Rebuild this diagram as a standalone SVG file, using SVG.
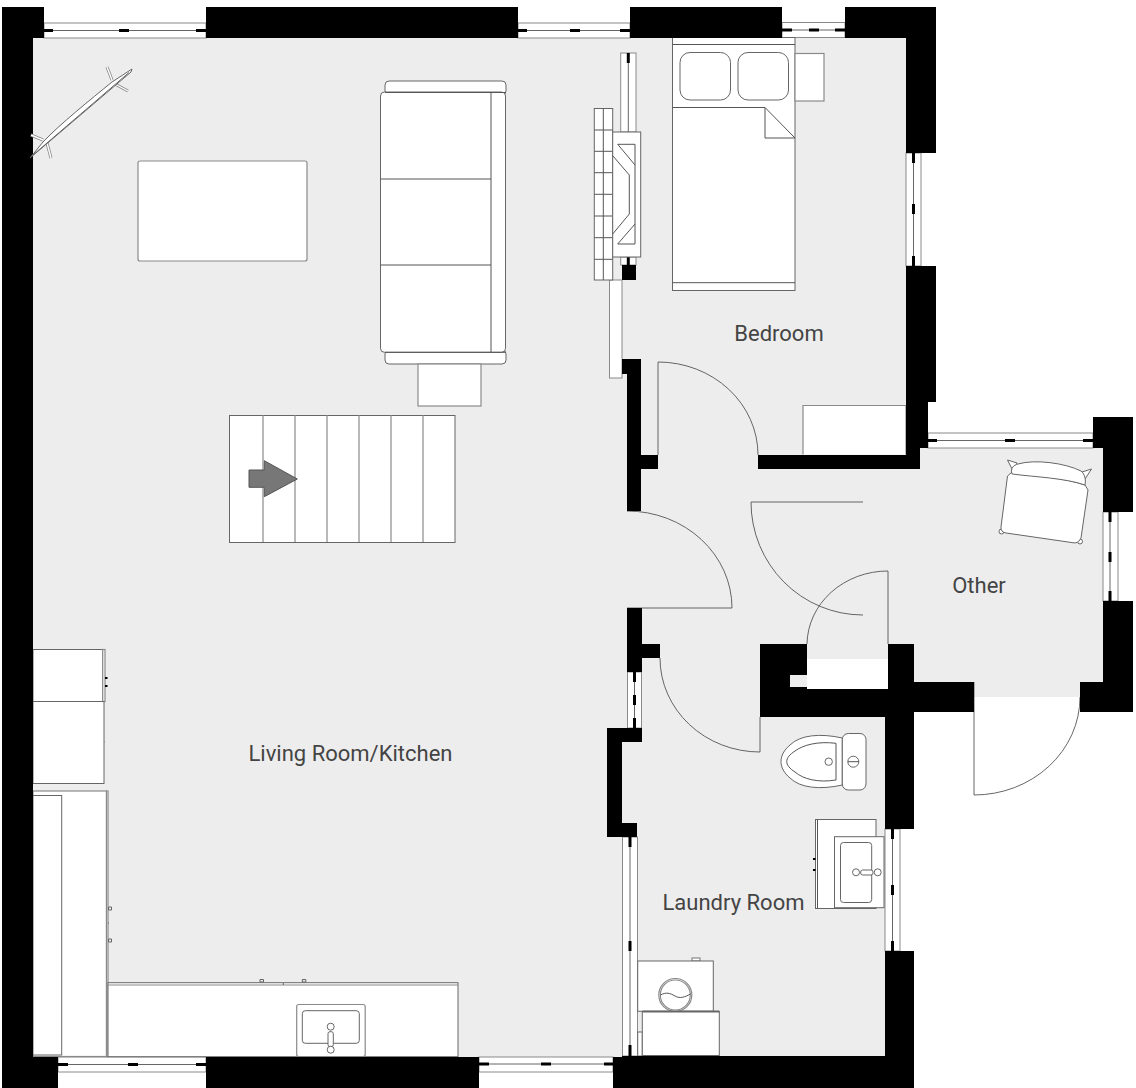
<svg xmlns="http://www.w3.org/2000/svg" width="1136" height="1088" viewBox="0 0 1136 1088">
<style>
.w{fill:#000}
.o{fill:#fff;stroke:#666;stroke-width:1}
.g{fill:#fff;stroke:#8a8a8a;stroke-width:1.2}
.l{fill:none;stroke:#555;stroke-width:1}
.d{fill:none;stroke:#555;stroke-width:.9}
.win{fill:#fff;stroke:#8a8a8a;stroke-width:1}
.c{fill:none;stroke:#666;stroke-width:1}
.b{fill:#000;stroke:none}
.a{stroke:#8a8a8a;stroke-width:3;fill:none}
.a2{stroke:#fff;stroke-width:1.4;fill:none}
text{font-family:Roboto,"Liberation Sans",sans-serif;font-size:22px;fill:#444;text-anchor:middle}
</style>
<rect width="1136" height="1088" fill="#fff"/>
<path id="floor" fill="#ededed" d="M33 38H906V455H920V448H1103V682L1080 697H974L914 705L885 717V1057H33Z"/>
<rect x="807" y="659" width="81" height="30" fill="#fff"/>
<g id="windows">
<g><rect class="win" x="44" y="23" width="162" height="15"/><path class="c" d="M44 30.500H206"/><path class="b" d="M44 29h9v3h-9zM119 29h10v3h-10zM196 29h10v3h-10z"/></g>
<g><rect class="win" x="518" y="23" width="112" height="15"/><path class="c" d="M518 30.500H630"/><path class="b" d="M518 29h9v3h-9zM570 29h10v3h-10zM620 29h10v3h-10z"/></g>
<g><rect class="win" x="782" y="22.500" width="63" height="15"/><path class="c" d="M782 30H845"/><path class="b" d="M782 28.500h10v3h-10zM809 28.500h10v3h-10zM835 28.500h10v3h-10z"/></g>
<g><rect class="win" x="906" y="153" width="15" height="113"/><path class="c" d="M913.500 153V266"/><path class="b" d="M912 153h3v10h-3zM912 204h3v10h-3zM912 256h3v10h-3z"/></g>
<g><rect class="win" x="928" y="433" width="165" height="15"/><path class="c" d="M928 440.500H1093"/><path class="b" d="M928 439h9v3h-9zM1005 439h10v3h-10zM1083 439h10v3h-10z"/></g>
<g><rect class="win" x="1103" y="512" width="15" height="89"/><path class="c" d="M1110 512V601"/><path class="b" d="M1108.500 512h3v10h-3zM1108.500 552h3v10h-3zM1108.500 591h3v10h-3z"/></g>
<g><rect class="win" x="58" y="1057" width="148" height="15"/><path class="c" d="M58 1064.500H206"/><path class="b" d="M58 1063h10v3h-10zM128 1063h10v3h-10zM196 1063h10v3h-10z"/></g>
<g><rect class="win" x="479" y="1057" width="134" height="15"/><path class="c" d="M479 1064H613"/><path class="b" d="M479 1062.500h10v3h-10zM541 1062.500h10v3h-10zM604 1062.500h9v3h-9z"/></g>
<g><rect class="win" x="622.500" y="837" width="15" height="219"/><path class="c" d="M630 837V1056"/><path class="b" d="M628.500 837h3v10h-3zM628.500 941h3v10h-3zM628.500 1045h3v11h-3z"/></g>
<g><rect class="win" x="885" y="829" width="15" height="122"/><path class="c" d="M892.500 829V951"/><path class="b" d="M891 829h3v10h-3zM891 885h3v10h-3zM891 941h3v10h-3z"/></g>
<g><rect class="win" x="627.500" y="672" width="14" height="56"/><path class="c" d="M634.500 672V728"/><path class="b" d="M633 672h3v10h-3zM633 695h3v10h-3zM633 718h3v10h-3z"/></g>
<g><rect class="win" x="620.700" y="53" width="15.300" height="79"/><path class="c" d="M628.300 53V132"/><path class="b" d="M626.800 53h3v10h-3z"/></g>
<g><rect class="win" x="620.700" y="257" width="15.300" height="8"/><path class="b" d="M626.800 257h3v8h-3z"/></g>
<rect class="win" x="609.500" y="280" width="12.500" height="98"/>
</g>
<g id="doors">
<path class="d" d="M658 455V362A100 93 0 0 1 758 455"/>
<path class="d" d="M627 511A105 97 0 0 1 732 608H627"/>
<path class="d" d="M660 658A100 94 0 0 0 760 752V717"/>
<path class="d" d="M863 502H751A112 113 0 0 0 863 615"/>
<path class="d" d="M807 644A81 74 0 0 1 888 571V644"/>
<path class="d" d="M974 682V795A106 98 0 0 0 1080 697"/>
</g>
<g id="rug"><rect class="g" x="138" y="161" width="169" height="100" rx="2"/></g>
<g id="sofa">
<rect class="o" x="385" y="81" width="121" height="14" rx="4"/>
<rect class="o" x="385" y="350" width="121" height="14" rx="4"/>
<rect class="o" x="380.500" y="92" width="125" height="260.300" rx="4"/>
<path class="l" d="M385 92.500H506M385 352.300H506M491 92V352M381 179H491M381 265H491"/>
<rect class="g" x="418" y="364" width="63" height="42"/>
</g>
<g id="stairs">
<rect class="o" x="229.500" y="415.500" width="225.500" height="127"/>
<path class="g" d="M263 415V542M295 415V542M327 415V542M359 415V542M391 415V542M423 415V542"/>
<path fill="#777" stroke="#555" stroke-width="1" d="M249 470H264.300V460.700L297.300 479L264.300 496.700V487.300H249Z"/>
</g>
<g id="fireplace">
<rect class="o" x="594.300" y="108.500" width="18.400" height="171.500"/>
<path class="l" d="M603.300 108.500V280M594.300 130H612.700M594.300 151.300H612.700M594.300 172.700H612.700M594.300 194.300H612.700M594.300 216H612.700M594.300 237.700H612.700M594.300 259.300H612.700"/>
<rect class="o" x="612.700" y="132" width="28" height="125" stroke="#333"/>
<path class="l" d="M635 165L617.700 144.300H635V244H617.700L635 224M612.700 155.700L629.300 175V214L612.700 234"/>
</g>
<g id="bed">
<rect class="o" x="672.500" y="37.500" width="122.500" height="253"/>
<path class="l" d="M672.500 44.500H795M672.500 282.700H795"/>
<rect class="o" x="680" y="52.500" width="50.500" height="47.500" rx="10"/>
<rect class="o" x="738" y="52.500" width="50.500" height="47.500" rx="10"/>
<path class="l" d="M672.500 107.500H765L795 138H765V107.500"/>
<rect class="g" x="795" y="53.500" width="29" height="47.500"/>
</g>
<g id="closet"><path class="g" d="M803 454.500V405.500H906V454.500"/></g>
<g id="chair">
<path class="o" d="M1007.500 460L1017 463L1013 471ZM1091.500 469L1082 472L1085 479Z"/>
<circle class="o" cx="1001.500" cy="531.500" r="2.500"/>
<circle class="o" cx="1080" cy="541.500" r="2.500"/>
<path class="o" d="M1007.500 476L1012 472C1035 476 1065 478 1085 485L1088 490L1081 538Q1079 543 1075 543L1006 533Q1000.500 532 1001 527Z"/>
<path class="o" d="M1012 474C1010 468 1014 465 1018 464C1035 459 1065 463 1081 471C1085 474 1086 480 1085 485C1065 478 1035 477 1012 474Z"/>
</g>
<g id="toilet">
<path class="o" d="M842.300 738C820 733 800 735 790 745C778 755 778 768 790 778C800 788 820 790 842.300 785Z"/>
<path class="l" d="M836 743.300V780C818 783 803 779 795 772C784 765 784 758 795 751C803 745 818 741 836 743.300Z"/>
<circle class="o" cx="828.700" cy="761.700" r="3.700"/>
<rect class="o" x="842.300" y="733.500" width="23.700" height="56.500" rx="6"/>
<circle class="o" cx="853.300" cy="761.700" r="5.500"/>
<path class="l" d="M847.800 761.700H858.800"/>
</g>
<g id="vanity">
<rect class="o" x="815.500" y="819.500" width="60.500" height="89"/>
<path class="l" d="M817.500 819.500V908.500"/>
<path class="b" d="M813 858h2.500v2h-2.500zM813 869h2.500v2h-2.500z"/>
<rect class="o" x="834.500" y="836.700" width="49.500" height="71"/>
<rect class="o" x="840.500" y="842.500" width="31.200" height="60" rx="3"/>
<rect class="o" x="860.700" y="870" width="12.300" height="5" rx="2"/>
<circle class="o" cx="856" cy="872.300" r="3.500"/>
<circle class="o" cx="877.700" cy="872.300" r="3.500"/>
</g>
<g id="laundry">
<rect class="g" x="692" y="958" width="8" height="3"/>
<rect class="o" x="637.700" y="961" width="75.600" height="50.300"/>
<circle class="g" cx="675.300" cy="995" r="16.500"/>
<circle class="g" cx="675.300" cy="995" r="15"/>
<path class="l" d="M660.500 995C666 992 670 993 675 996C680 999 685 997 690.500 994"/>
<rect class="o" x="637.700" y="1032" width="4.600" height="24"/>
<rect class="o" x="642.300" y="1011.500" width="77" height="44"/>
<path d="M642.300 1011.500H719.300" stroke="#666" stroke-width="2" fill="none"/>
</g>
<g id="kitchen">
<rect class="o" x="33" y="649.500" width="69.700" height="52"/>
<rect class="g" x="102.700" y="649.500" width="2.300" height="52"/>
<rect class="o" x="33" y="701.500" width="71" height="82"/>
<path class="g" d="M104 742H105"/>
<path class="b" d="M105 677h2.500v2h-2.500zM105 685h2.500v2h-2.500z"/>
<rect class="g" x="33" y="791" width="73.500" height="265.500"/>
<rect class="o" x="33" y="795.500" width="28.700" height="259.500"/>
<rect class="g" x="106.500" y="791" width="1.500" height="265.500"/>
<path class="c" d="M108.500 907h3v3h-3zM108.500 939h3v3h-3zM108 923h1"/>
<rect class="o" x="108" y="982.700" width="350" height="74"/>
<path class="g" d="M108 985H458"/>
<path class="c" d="M260 979.500h3.500v2.500h-3.500zM302.300 979.500h3.500v2.500h-3.500zM283.300 983v2"/>
<rect class="g" x="296.700" y="1004.500" width="68.500" height="52" rx="2"/>
<rect class="o" x="302.300" y="1010.700" width="57" height="32.600" rx="3"/>
<rect class="o" x="328" y="1031.700" width="5.300" height="15" rx="2"/>
<circle class="o" cx="330.700" cy="1026.700" r="3.500"/>
<circle class="o" cx="330.700" cy="1049.700" r="3.500"/>
</g>
<g id="walls">
<path class="w" d="M2 7H44V38H33V1057H58V1088H2Z"/>
<rect class="w" x="206" y="7" width="312" height="31"/>
<rect class="w" x="630" y="7" width="152" height="31"/>
<path class="w" d="M845 7H936V153H906V38H845Z"/>
<path class="w" d="M906 266H936V402H928V448H920V469H758V455H906Z"/>
<path class="w" d="M1093 417H1133V512H1103V448H1093Z"/>
<path class="w" d="M1103 601H1133V712H1080V682H1103Z"/>
<path class="w" d="M622 359H641V455H658V469H641V511H627V374H622Z"/>
<path class="w" d="M627 608H642V644H660V658H642V672H627Z"/>
<path class="w" d="M607 728H642V742H622V823H637V837H607Z"/>
<path class="w" d="M760 644H807V675H790V687H807V689H888V644H914V682H974V712H914V829H885V717H760Z"/>
<path class="w" d="M885 951H914V1088H613V1057H622V1056H885Z"/>
<rect class="w" x="206" y="1057" width="273" height="31"/>
<rect class="w" x="622" y="265" width="14" height="15"/>
</g>
<g id="plant">
<path class="a" d="M31 135L43 140M47 143L51 158M107 67L112 80M115 84L128 91"/>
<path class="a2" d="M31 135L43 140M47 143L51 158M107 67L112 80M115 84L128 91"/>
<path class="o" d="M30 158L43 142C60 124 90 100 112 82L132 69L131 72Z"/>
<path class="c" d="M33 155L129 72.500"/>
</g>
<g id="labels">
<text x="779" y="341">Bedroom</text>
<text x="979" y="593">Other</text>
<text x="350.500" y="761">Living Room/Kitchen</text>
<text x="733.500" y="909.500">Laundry Room</text>
</g>
</svg>
